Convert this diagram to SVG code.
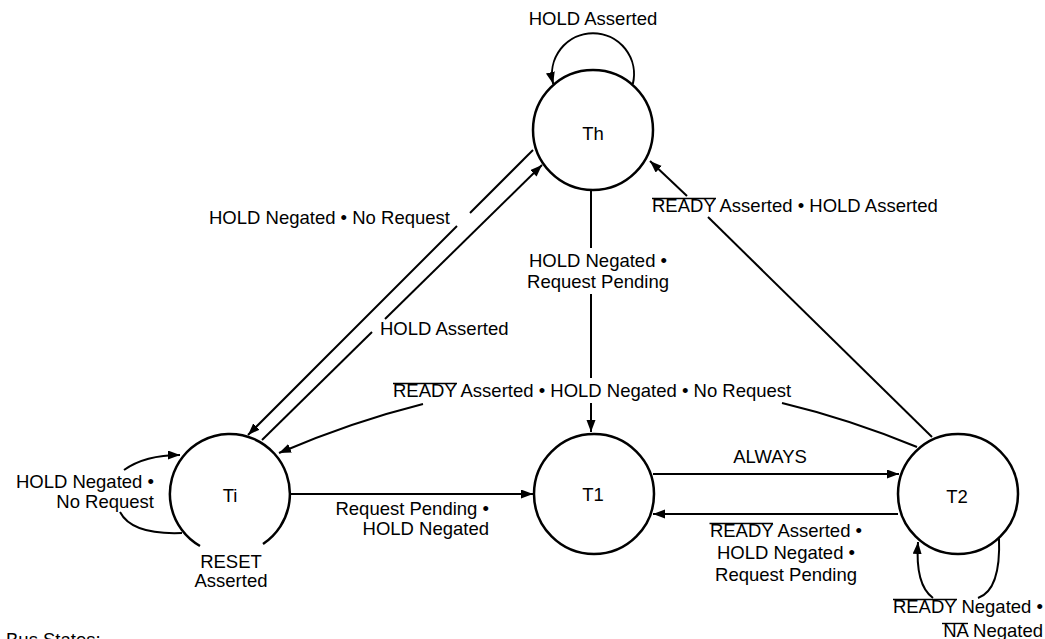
<svg xmlns="http://www.w3.org/2000/svg" width="1045" height="639" viewBox="0 0 1045 639">
<style>
.node{fill:#fff;stroke:#000;stroke-width:2.5}
.edge{fill:none;stroke:#000;stroke-width:2}
.t{font-family:"Liberation Sans",Arial,Helvetica,sans-serif;font-size:18.5px;fill:#000}
.m{text-anchor:middle}
.e{text-anchor:end}
.ol{stroke:#000;stroke-width:1.4}
</style>
<defs>
<marker id="arr" markerUnits="userSpaceOnUse" markerWidth="13" markerHeight="10" refX="12" refY="4.5" orient="auto">
<path d="M0,0 L12,4.5 L0,9 z" fill="#000"/>
</marker>
</defs>
<rect width="1045" height="639" fill="#fff"/>

<g id="connectors" class="edge">
  <!-- Th self loop -->
  <path d="M632.8,84 A41,41 0 1 0 553.2,84" marker-end="url(#arr)"/>
  <!-- Th -> Ti -->
  <path d="M533,150 L470,213"/>
  <path d="M457,226 L248,435" marker-end="url(#arr)"/>
  <!-- Ti -> Th -->
  <path d="M262,440 L372,332"/>
  <path d="M385,319 L542,165" marker-end="url(#arr)"/>
  <!-- Th -> T1 -->
  <path d="M591,190 L591,248"/>
  <path d="M591,294 L591,378"/>
  <path d="M591,403 L591,432" marker-end="url(#arr)"/>
  <!-- T2 -> Th -->
  <path d="M932,437 L708,217"/>
  <path d="M687,196 L650,161" marker-end="url(#arr)"/>
  <!-- T2 -> Ti -->
  <path d="M917,447 Q849,419 782,403"/>
  <path d="M423,404 Q351,422 279,453" marker-end="url(#arr)"/>
  <!-- Ti -> T1 -->
  <path d="M290,494 L533,494" marker-end="url(#arr)"/>
  <!-- T1 -> T2 -->
  <path d="M653,474 L899,474" marker-end="url(#arr)"/>
  <!-- T2 -> T1 -->
  <path d="M898,514 L653,514" marker-end="url(#arr)"/>
  <!-- Ti self loop -->
  <path d="M124,470 Q145,455 180,455" marker-end="url(#arr)"/>
  <path d="M120,512 Q132,535 182,533"/>
  <!-- T2 self loop -->
  <path d="M933,598 Q915,585 918,542" marker-end="url(#arr)"/>
  <path d="M978,598 Q1001,590 999,538"/>
</g>

<g id="node-Th">
  <circle class="node" cx="593" cy="130" r="60"/>
  <text class="t m" x="593" y="140">Th</text>
</g>
<g id="node-Ti">
  <path class="node" d="M263,544 A60,60 0 1 0 200,546"/>
  <text class="t m" x="230" y="502">Ti</text>
</g>
<g id="node-T1">
  <circle class="node" cx="594" cy="494" r="60"/>
  <text class="t m" x="593" y="501">T1</text>
</g>
<g id="node-T2">
  <circle class="node" cx="958" cy="494" r="60"/>
  <text class="t m" x="957" y="503">T2</text>
</g>

<g id="labels">
  <text class="t m" x="593" y="25">HOLD Asserted</text>
  <text class="t" x="209" y="224">HOLD Negated • No Request</text>
  <text class="t" x="380" y="335">HOLD Asserted</text>
  <text class="t m" x="598" y="267">HOLD Negated •</text>
  <text class="t m" x="598" y="288">Request Pending</text>
  <text class="t" x="652" y="212">READY Asserted • HOLD Asserted</text>
  <line class="ol" x1="652" y1="198.5" x2="716" y2="198.5"/>
  <text class="t" x="393" y="397">READY Asserted • HOLD Negated • No Request</text>
  <line class="ol" x1="393" y1="383.5" x2="457" y2="383.5"/>
  <text class="t m" x="770" y="463">ALWAYS</text>
  <text class="t e" x="489" y="515">Request Pending •</text>
  <text class="t e" x="489" y="535">HOLD Negated</text>
  <text class="t e" x="154" y="488">HOLD Negated •</text>
  <text class="t e" x="154" y="508">No Request</text>
  <text class="t m" x="231" y="568">RESET</text>
  <text class="t m" x="231" y="587">Asserted</text>
  <text class="t m" x="786" y="537">READY Asserted •</text>
  <line class="ol" x1="709.5" y1="523.5" x2="773" y2="523.5"/>
  <text class="t m" x="786" y="559">HOLD Negated •</text>
  <text class="t m" x="786" y="581">Request Pending</text>
  <text class="t e" x="1043" y="613">READY Negated •</text>
  <line class="ol" x1="893" y1="599.5" x2="957" y2="599.5"/>
  <text class="t e" x="1043" y="637">NA Negated</text>
  <line class="ol" x1="942" y1="623.5" x2="968" y2="623.5"/>
  <text class="t" x="6" y="646">Bus States:</text>
</g>
</svg>
